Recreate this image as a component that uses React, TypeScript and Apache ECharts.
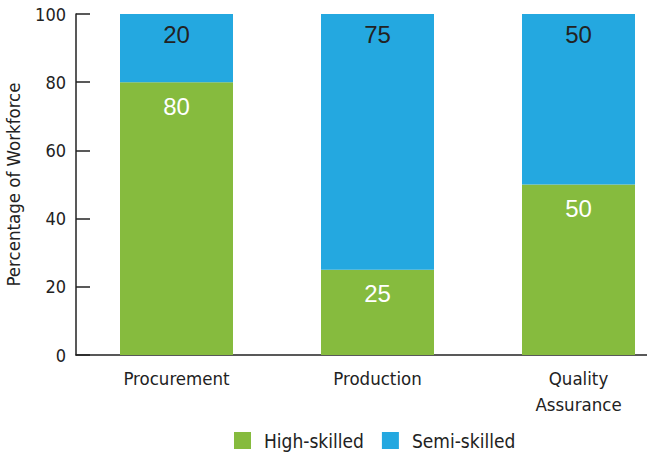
import React, { useEffect, useRef } from "react";
import * as echarts from "echarts";

const categories = ["Procurement", "Production", "Quality\nAssurance"];
const highSkilled = [80, 25, 50];
const semiSkilled = [20, 75, 50];
const yTicks = { min: 0, max: 100, interval: 20 };

const GREEN = "#86bb3e";
const BLUE = "#24a8e0";
const DARK = "#222222";
const NARROW = "'DejaVu Sans Condensed', 'Liberation Sans Narrow', sans-serif";
const SANS = "'Liberation Sans', Arial, sans-serif";

export default function App() {
  const ref = useRef<HTMLDivElement>(null);
  useEffect(() => {
    if (!ref.current) return;
    const chart = echarts.init(ref.current, undefined, { renderer: "svg" });
    chart.setOption({
      animation: false,
      textStyle: { fontFamily: NARROW },
      grid: {
        left: 76,
        top: 14,
        width: 603,
        height: 341,
        containLabel: false,
        outerBoundsMode: "none",
      },
      legend: {
        data: ["High-skilled", "Semi-skilled"],
        left: 229,
        top: 426,
        icon: "rect",
        itemWidth: 17,
        itemHeight: 17,
        itemGap: 18,
        textStyle: { fontFamily: NARROW, fontSize: 19, color: DARK, padding: [0, 0, 0, 8] },
      },
      xAxis: {
        type: "category",
        data: categories,
        boundaryGap: true,
        axisLine: { lineStyle: { color: DARK, width: 1.5 } },
        axisTick: { inside: true, length: 7, lineStyle: { color: DARK, width: 1.5 } },
        axisLabel: { fontFamily: NARROW, fontSize: 18.5, color: DARK, margin: 10, lineHeight: 26, interval: 0 },
      },
      yAxis: {
        type: "value",
        min: yTicks.min,
        max: yTicks.max,
        interval: yTicks.interval,
        name: "Percentage of Workforce",
        nameLocation: "middle",
        nameGap: 53,
        nameTextStyle: { fontFamily: NARROW, fontSize: 18.5, color: DARK },
        axisLine: { show: true, lineStyle: { color: DARK, width: 1.5 } },
        axisTick: { show: true, inside: true, length: 14, lineStyle: { color: DARK, width: 1.5 } },
        axisLabel: { fontFamily: NARROW, fontSize: 18, color: DARK, margin: 10 },
        splitLine: { show: false },
      },
      series: [
        {
          name: "High-skilled",
          type: "bar",
          stack: "total",
          data: highSkilled,
          barWidth: 113,
          itemStyle: { color: GREEN },
          label: {
            show: true,
            position: "insideTop",
            distance: 12,
            fontFamily: SANS,
            fontSize: 24,
            color: "#ffffff",
          },
        },
        {
          name: "Semi-skilled",
          type: "bar",
          stack: "total",
          data: semiSkilled,
          barWidth: 113,
          itemStyle: { color: BLUE },
          label: {
            show: true,
            position: "insideTop",
            distance: 8,
            fontFamily: SANS,
            fontSize: 24,
            color: DARK,
          },
        },
      ],
    });
    return () => chart.dispose();
  }, []);
  return (
    <div
      ref={ref}
      style={{ position: "fixed", left: 0, top: 0, width: 647, height: 454, background: "#fff" }}
    />
  );
}
